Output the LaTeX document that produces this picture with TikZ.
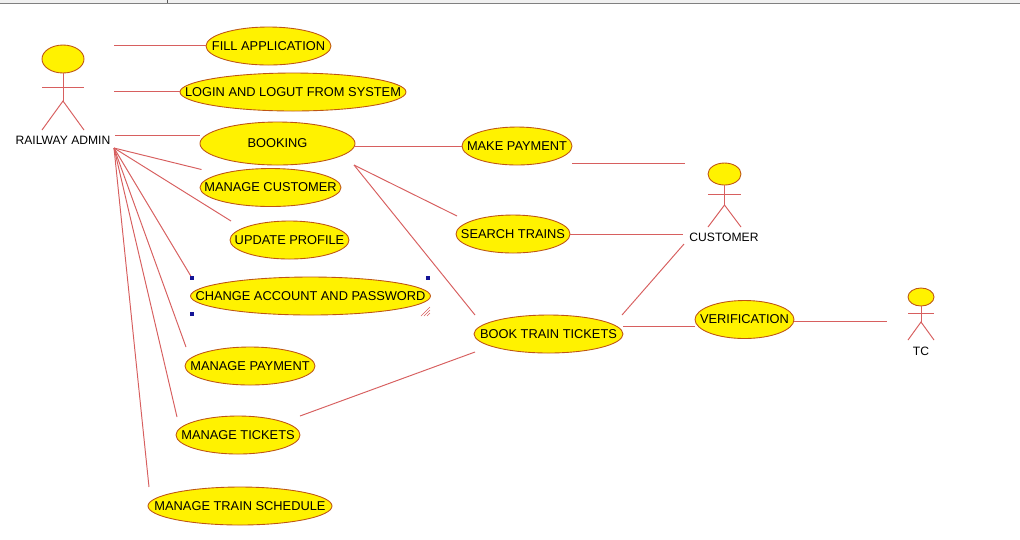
\documentclass[tikz,border=0pt]{standalone}
\usepackage{fontspec}
\setmainfont{Liberation Sans}
\usetikzlibrary{shapes.geometric}
\definecolor{linkred}{RGB}{215,95,95}
\definecolor{rimred}{RGB}{190,85,20}
\definecolor{handleblue}{RGB}{20,20,150}
\newcommand{\uctext}[1]{\makebox[0pt]{#1}}
\tikzset{
  usecase/.style={ellipse,draw=rimred,fill=yellow,line width=0.5pt,inner sep=0pt,minimum height=0.76cm,minimum width=#1*0.02cm,font=\fontsize{7.3}{8}\selectfont},
  head/.style={usecase=#1},
  link/.style={draw=linkred,line width=0.55pt},
  actorname/.style={font=\fontsize{6.9}{8}\selectfont,inner sep=0pt},
  handle/.style={fill=handleblue,inner sep=0pt,minimum size=0.07cm}
}
\begin{document}
\begin{tikzpicture}[x=0.02cm,y=-0.02cm]
  \useasboundingbox(0,0)rectangle(1020,539);
  \fill[gray!12](0,0)rectangle(1020,3);
  \draw[gray,line width=0.7pt](0,3.5)--(1020,3.5);
  \draw[gray!70!black,line width=0.5pt](167,0)--(167,3);

  % actors
  \node[head=42,minimum height=0.56cm](adminhead)at(63,59){};
  \draw[link](adminhead.south)--(63,101)coordinate(adminhip);
  \draw[link](42,87)--(84,87);
  \draw[link](42,130)--(adminhip)--(84,130);
  \node[actorname](admin)at(63,140){RAILWAY ADMIN};
  \node[head=33,minimum height=0.44cm](customerhead)at(724.5,174){};
  \draw[link](customerhead.south)--(724.5,205)coordinate(customerhip);
  \draw[link](708,194.5)--(741,194.5);
  \draw[link](708,227)--(customerhip)--(741,227);
  \node[actorname](customer)at(724,237){CUSTOMER};
  \node[head=26,minimum height=0.36cm](tchead)at(921,297){};
  \draw[link](tchead.south)--(921,322)coordinate(tchip);
  \draw[link](908,313)--(934,313);
  \draw[link](908,340)--(tchip)--(934,340);
  \node[actorname](tc)at(921,351){TC};

  % use cases
  \node[usecase=125](fillapp)at(268.5,46){\uctext{FILL APPLICATION}};
  \node[usecase=226](login)at(293,92){\uctext{LOGIN AND LOGUT FROM SYSTEM}};
  \node[usecase=155,minimum height=0.86cm](booking)at(277.5,143.5){\uctext{BOOKING}};
  \node[usecase=141](mcustomer)at(270.5,187.5){\uctext{MANAGE CUSTOMER}};
  \node[usecase=119](profile)at(289.5,240){\uctext{UPDATE PROFILE}};
  \node[usecase=240](account)at(310.5,296){\uctext{CHANGE ACCOUNT AND PASSWORD}};
  \node[usecase=130](mpayment)at(250,366){\uctext{MANAGE PAYMENT}};
  \node[usecase=124](mtickets)at(238,435){\uctext{MANAGE TICKETS}};
  \node[usecase=184](schedule)at(240,506){\uctext{MANAGE TRAIN SCHEDULE}};
  \node[usecase=110](payment)at(517,146){\uctext{MAKE PAYMENT}};
  \node[usecase=114](search)at(513,234){\uctext{SEARCH TRAINS}};
  \node[usecase=149](book)at(548.5,334){\uctext{BOOK TRAIN TICKETS}};
  \node[usecase=99](verify)at(744.5,319.5){\uctext{VERIFICATION}};

  % selection marks
  \node[handle](markA)at(192,278){};
  \node[handle](markB)at(428,278){};
  \node[handle](markC)at(192,314){};
  \foreach \d in {0,3,6}
    \draw[linkred,line width=0.3pt](421+\d,316)--(430,307+\d);

  % free ends of the links
  \coordinate(adminfan)at(114,148);
  \coordinate(endcustomer)at(201.5,169.5);
  \coordinate(endprofile)at(231,221);
  \coordinate(endpayment)at(186,347);
  \coordinate(endtickets)at(177,417);
  \coordinate(endschedule)at(149,487);
  \coordinate(bookingfoot)at(354,165);
  \foreach \e in {endcustomer,endprofile,markA,endpayment,endtickets,endschedule}
    \draw[link](adminfan)--(\e);
  \draw[link](114,45)coordinate(a1)--(a1-|fillapp.west);
  \draw[link](114,91)coordinate(a2)--(a2-|login.west);
  \draw[link](115,135)coordinate(a3)--(a3-|booking.west);
  \draw[link](booking.east|-payment.west)--(payment.west);
  \draw[link](bookingfoot)--(457,216)coordinate(s1);
  \draw[link](bookingfoot)--(475,315)coordinate(b1);
  \draw[link](572,163)coordinate(p1)--(685,163)coordinate(p2);
  \draw[link](search.east)--(683,234);
  \draw[link](622,315)coordinate(b2)--(684,244)coordinate(c1);
  \draw[link](623,326)coordinate(b3)--(b3-|verify.west);
  \draw[link](300,416)coordinate(t1)--(475,352)coordinate(b4);
  \draw[link](794,321)coordinate(v1)--(887,321)coordinate(tc1);
\end{tikzpicture}
\end{document}
